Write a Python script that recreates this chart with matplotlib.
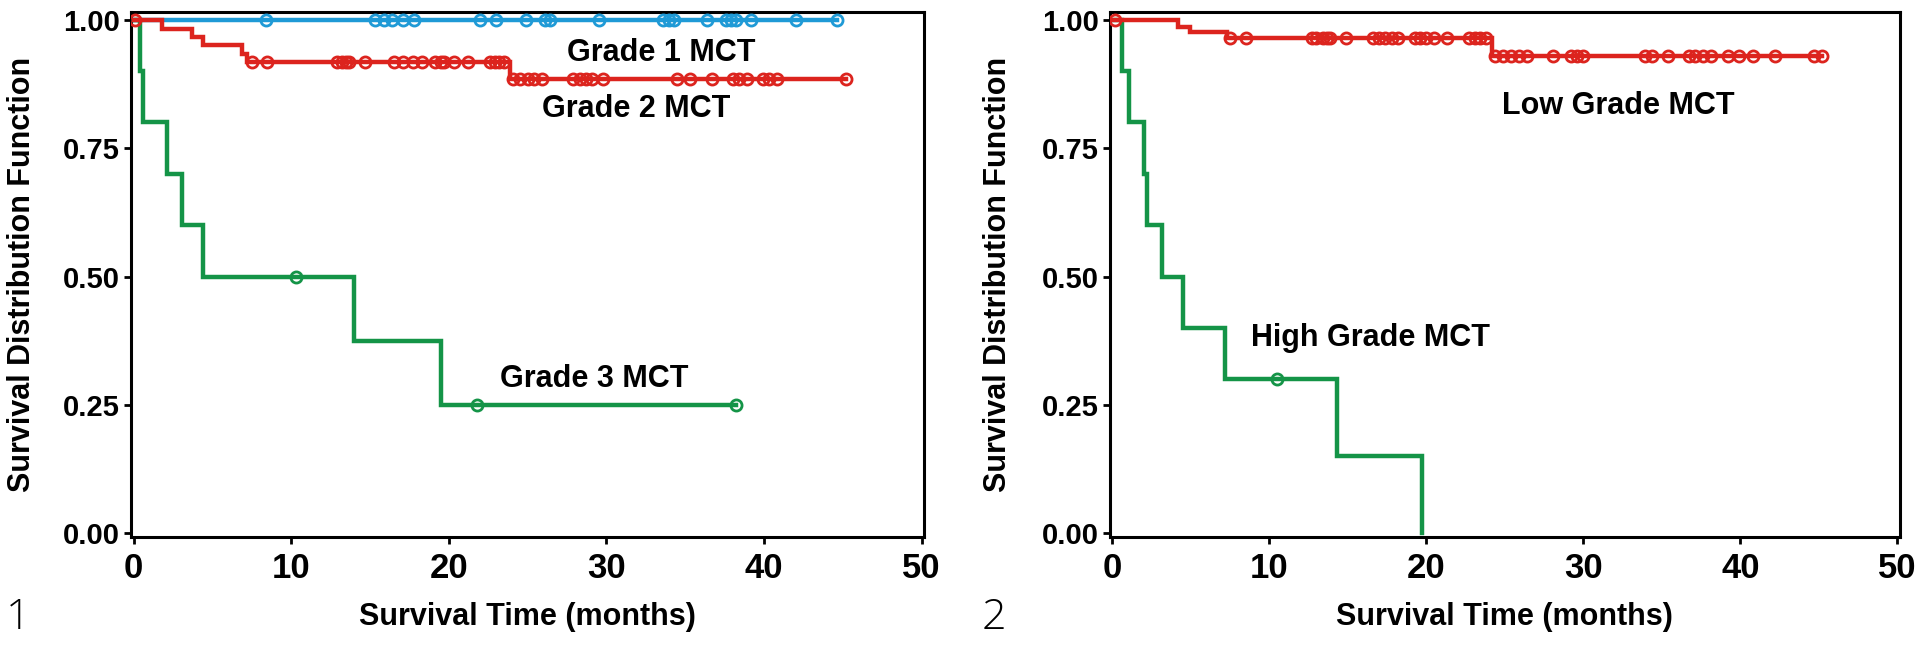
import numpy as np
import matplotlib
matplotlib.use("Agg")
import matplotlib.pyplot as plt

# ---- data (months / survival proportion) ----
# panel 1
g1_times = [0.0]
g1_surv = [1.0]
g1_end = 44.6
g1_cens = [8.4, 15.3, 15.9, 16.4, 17.1, 17.8, 22.0, 23.0, 24.9, 26.1, 26.4, 29.5,
           33.6, 34.0, 34.3, 36.4, 37.6, 37.9, 38.2, 39.2, 42.0, 44.6]

g2_times = [0.0, 1.8, 3.7, 4.4, 6.9, 7.2, 23.9]
g2_surv = [1.0, 0.982, 0.966, 0.950, 0.934, 0.918, 0.884]
g2_end = 45.2
g2_cens = [0.1, 7.5, 8.5, 12.9, 13.2, 13.5, 13.7, 14.7, 16.5, 17.1, 17.7, 18.3,
           19.1, 19.5, 19.7, 20.3, 21.2, 22.6, 22.9, 23.2, 23.5, 24.1, 24.5, 25.0,
           25.4, 25.9, 27.9, 28.3, 28.7, 29.1, 29.8, 34.5, 35.3, 36.7, 38.0, 38.4,
           38.9, 39.9, 40.3, 40.8, 45.2]

g3_times = [0.0, 0.4, 0.6, 2.1, 3.1, 4.4, 14.0, 19.5]
g3_surv = [1.0, 0.9, 0.8, 0.7, 0.6, 0.5, 0.375, 0.25]
g3_end = 38.2
g3_cens = [10.3, 21.8, 38.2]

# panel 2
low_times = [0.0, 4.2, 4.95, 7.3, 24.2]
low_surv = [1.0, 0.985, 0.975, 0.965, 0.929]
low_end = 45.2
low_cens = [0.2, 7.5, 8.5, 12.7, 13.0, 13.4, 13.7, 13.9, 14.9, 16.6, 17.0, 17.4,
            17.8, 18.2, 19.3, 19.6, 20.0, 20.5, 21.3, 22.7, 23.1, 23.4, 23.8, 24.4,
            24.9, 25.4, 25.9, 26.4, 28.1, 29.2, 29.6, 30.0, 33.9, 34.4, 35.4, 36.7,
            37.1, 37.6, 38.1, 39.2, 39.9, 40.8, 42.2, 44.7, 45.2]

high_times = [0.0, 0.6, 1.1, 2.0, 2.2, 3.2, 4.5, 7.2, 14.3, 19.75]
high_surv = [1.0, 0.9, 0.8, 0.7, 0.6, 0.5, 0.4, 0.3, 0.15, 0.0]
high_end = None
high_cens = [10.5]

BLUE = '#1f9ad6'
RED = '#dc241e'
GREEN = '#149447'

plt.rcParams['font.family'] = ['Liberation Sans', 'DejaVu Sans']
plt.rcParams['font.weight'] = 'bold'


def km(ax, times, surv, end, cens, color):
    xs = list(times)
    ys = list(surv)
    if end is not None:
        xs.append(end)
        ys.append(surv[-1])
    ax.step(xs, ys, where='post', color=color, lw=3.2, solid_joinstyle='miter',
            zorder=3)
    t = np.asarray(times)
    s = np.asarray(surv)
    cy = [s[np.searchsorted(t, c, side='right') - 1] for c in cens]
    ax.plot(cens, cy, 'o', ms=8, mfc='none', mec=color, mew=2, color=color,
            zorder=4)


def setup(ax):
    ax.set_xlim(-0.15, 50.15)
    ax.set_ylim(-0.007, 1.015)
    ax.set_xticks([0, 10, 20, 30, 40, 50])
    ax.set_yticks([0, 0.25, 0.5, 0.75, 1.0])
    ax.set_yticklabels(['0.00', '0.25', '0.50', '0.75', '1.00'])
    for sp in ax.spines.values():
        sp.set_linewidth(2.2)
        sp.set_color('black')
    ax.tick_params(axis='both', direction='out', length=5, width=2, colors='black')
    ax.tick_params(axis='x', labelsize=25, pad=6)
    ax.tick_params(axis='y', labelsize=21, pad=3)
    ax.set_xlabel('Survival Time (months)', fontsize=22, fontweight='bold')
    ax.set_ylabel('Survival Distribution Function', fontsize=22, fontweight='bold')
    ax.xaxis.set_label_coords(0.5, -0.152)
    ax.xaxis.label.set_va('center')
    ax.yaxis.label.set_va('center')


fig = plt.figure(figsize=(19.2, 6.49), dpi=100)
ax1 = fig.add_axes([0.0683, 0.1726, 0.413, 0.809])
ax2 = fig.add_axes([0.578, 0.1726, 0.4115, 0.809])

setup(ax1)
setup(ax2)
ax1.yaxis.set_label_coords(-0.1375, 0.5)
ax2.yaxis.set_label_coords(-0.142, 0.5)

km(ax1, g1_times, g1_surv, g1_end, g1_cens, BLUE)
km(ax1, g3_times, g3_surv, g3_end, g3_cens, GREEN)
km(ax1, g2_times, g2_surv, g2_end, g2_cens, RED)

km(ax2, high_times, high_surv, high_end, high_cens, GREEN)
km(ax2, low_times, low_surv, low_end, low_cens, RED)

lab = dict(fontsize=22, fontweight='bold', ha='center', va='center')
ax1.text(33.5, 0.935, 'Grade 1 MCT', **lab)
ax1.text(31.9, 0.826, 'Grade 2 MCT', **lab)
ax1.text(29.2, 0.30, 'Grade 3 MCT', **lab)
ax2.text(32.2, 0.832, 'Low Grade MCT', **lab)
ax2.text(16.45, 0.38, 'High Grade MCT', **lab)

num = dict(fontsize=31, fontweight='light', family=['Open Sans', 'DejaVu Sans'],
           ha='center', va='center')
fig.text(18 / 1920, 1 - 618 / 649, '1', **num)
fig.text(994 / 1920, 1 - 618 / 649, '2', **num)

fig.savefig('out.png', dpi=100)
